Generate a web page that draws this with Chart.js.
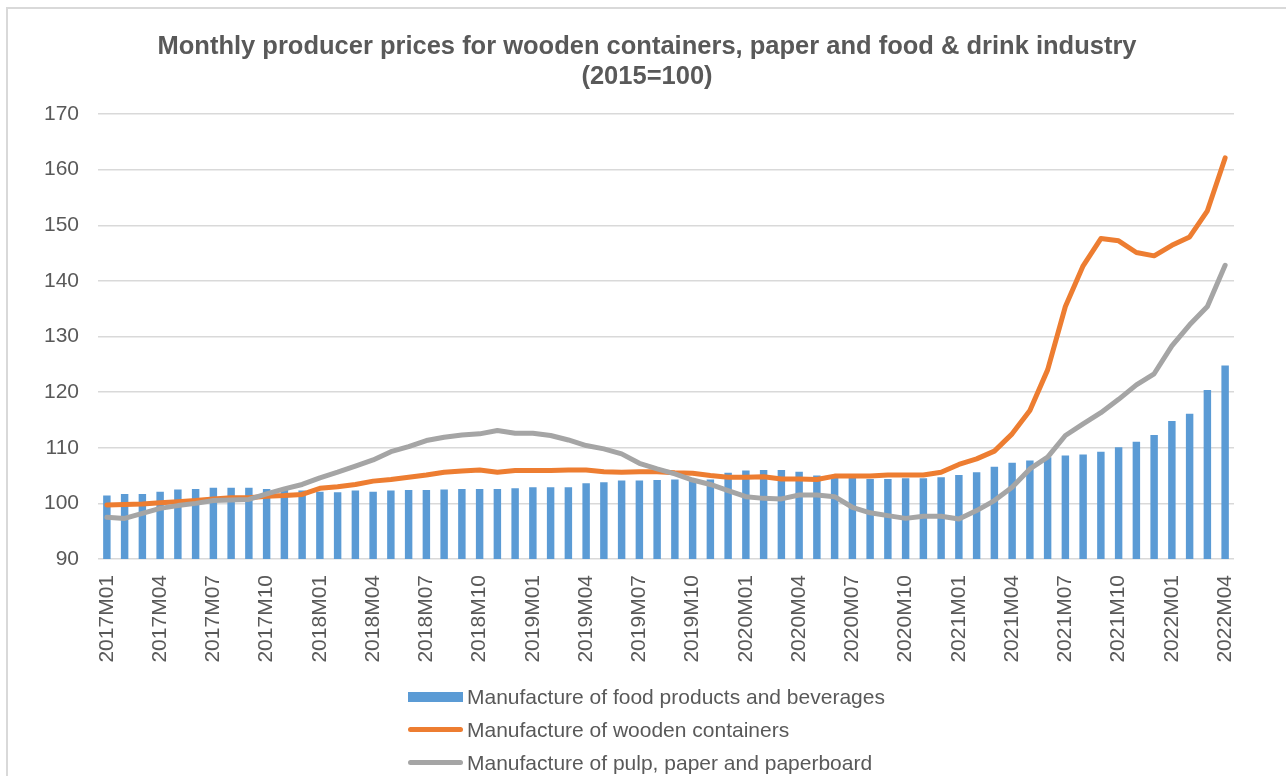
<!DOCTYPE html>
<html>
<head>
<meta charset="utf-8">
<script src="https://cdn.jsdelivr.net/npm/chart.js@4"></script>
<style>
  body { margin: 0; background: #fff; font-family: "Liberation Sans", Arial, sans-serif; overflow: hidden; }
  #frame { position: absolute; left: 6px; top: 7px; width: 1300px; height: 800px; border: 2px solid #d9d9d9; box-sizing: border-box; }
  #wrap { position: absolute; left: 0; top: 0; width: 1286px; height: 776px; }
  #legend { position: absolute; left: 408px; top: 680px; color: #595959; font-size: 21px; }
  .item { height: 33px; display: flex; align-items: center; }
  .mark { width: 55px; margin-right: 4px; }
</style>
</head>
<body>
<div id="frame"></div>
<div id="wrap"><canvas id="chart" width="1286" height="776"></canvas></div>
<div id="legend"></div>
<script>
// months shown on the axis
const months = [
  '2017M01','2017M02','2017M03','2017M04','2017M05','2017M06','2017M07','2017M08','2017M09','2017M10','2017M11','2017M12',
  '2018M01','2018M02','2018M03','2018M04','2018M05','2018M06','2018M07','2018M08','2018M09','2018M10','2018M11','2018M12',
  '2019M01','2019M02','2019M03','2019M04','2019M05','2019M06','2019M07','2019M08','2019M09','2019M10','2019M11','2019M12',
  '2020M01','2020M02','2020M03','2020M04','2020M05','2020M06','2020M07','2020M08','2020M09','2020M10','2020M11','2020M12',
  '2021M01','2021M02','2021M03','2021M04','2021M05','2021M06','2021M07','2021M08','2021M09','2021M10','2021M11','2021M12',
  '2022M01','2022M02','2022M03','2022M04'
];

const foodDrink = [
  101.4,101.7,101.7,102.1,102.5,102.6,102.8,102.8,102.8,102.6,102.4,102.3,
  102.1,102.0,102.3,102.1,102.3,102.4,102.4,102.5,102.6,102.6,102.6,102.7,
  102.9,102.9,102.9,103.6,103.8,104.1,104.1,104.2,104.3,104.3,104.3,105.5,
  105.9,106.0,106.0,105.7,105.0,104.8,104.6,104.4,104.4,104.5,104.5,104.7,
  105.1,105.6,106.6,107.3,107.7,108.3,108.6,108.8,109.3,110.1,111.1,112.3,
  114.8,116.1,120.4,124.8
];

const woodenContainers = [
  99.7,99.8,99.9,100.1,100.3,100.5,100.8,101.0,101.0,101.3,101.4,101.6,
  102.7,103.0,103.4,104.0,104.3,104.7,105.1,105.6,105.8,106.0,105.6,105.9,
  105.9,105.9,106.0,106.0,105.7,105.6,105.7,105.7,105.5,105.4,105.0,104.7,
  104.7,104.8,104.4,104.4,104.3,104.9,104.9,104.9,105.1,105.1,105.1,105.6,
  107.0,108.0,109.4,112.5,116.7,124.0,135.4,142.7,147.6,147.2,145.1,144.5,
  146.4,147.9,152.6,162.1
];

const pulpPaper = [
  97.5,97.3,98.2,99.1,99.6,100.0,100.5,100.6,100.7,101.7,102.6,103.4,
  104.6,105.6,106.7,107.8,109.3,110.2,111.3,111.9,112.3,112.5,113.1,112.6,
  112.6,112.2,111.4,110.4,109.8,108.9,107.2,106.2,105.3,104.2,103.4,102.3,
  101.2,100.9,100.8,101.5,101.5,101.2,99.3,98.3,97.8,97.3,97.7,97.7,
  97.2,98.7,100.5,102.9,106.2,108.3,112.2,114.3,116.3,118.7,121.3,123.3,
  128.3,132.1,135.4,142.8
];

const yMin = 90, yMax = 170, yStep = 10;
const txt = '#595959';
const font = '"Liberation Sans", Arial, sans-serif';

const series = [
  { label: 'Manufacture of food products and beverages', type: 'bar', data: foodDrink, color: '#5B9BD5', order: 3 },
  { label: 'Manufacture of wooden containers', type: 'line', data: woodenContainers, color: '#ED7D31', order: 2 },
  { label: 'Manufacture of pulp, paper and paperboard', type: 'line', data: pulpPaper, color: '#A5A5A5', order: 1 }
];

const datasets = series.map(s => s.type === 'bar' ? {
  type: 'bar', label: s.label, data: s.data, order: s.order, yAxisID: 'y',
  backgroundColor: s.color, barPercentage: 0.42, categoryPercentage: 1
} : {
  type: 'line', label: s.label, data: s.data, order: s.order, yAxisID: 'y',
  borderColor: s.color, backgroundColor: s.color, borderWidth: 5,
  pointRadius: 0, tension: 0, borderJoinStyle: 'round', borderCapStyle: 'round'
});

new Chart(document.getElementById('chart'), {
  data: { labels: months, datasets },
  options: {
    responsive: false,
    animation: false,
    // left/right padding keeps the title centred on the frame
    layout: { padding: { left: 30, right: 22, top: 0, bottom: 107 } },
    plugins: {
      legend: { display: false },
      tooltip: { enabled: false },
      title: {
        display: true,
        text: ['Monthly producer prices for wooden containers, paper and food & drink industry', '(2015=100)'],
        color: txt,
        font: { family: font, size: 25.5, weight: 'bold', lineHeight: '30px' },
        padding: { top: 32, bottom: 22 }
      }
    },
    scales: {
      x: {
        grid: { display: false },
        border: { display: false },
        ticks: {
          autoSkip: false, maxRotation: 90, minRotation: 90, padding: 8,
          color: txt, font: { family: font, size: 21 },
          callback: (v, i) => i % 3 === 0 ? months[i] : ''
        },
        afterFit: s => { s.height = 110; }
      },
      y: {
        min: yMin, max: yMax,
        grid: { color: '#d9d9d9', lineWidth: 1.5, drawTicks: false },
        border: { display: false },
        ticks: { stepSize: yStep, padding: 19, color: txt, font: { family: font, size: 21 } },
        afterFit: s => { s.width = 68; }
      },
      // empty spacer on the right
      yRight: {
        position: 'right',
        grid: { display: false },
        border: { display: false },
        ticks: { display: false },
        afterFit: s => { s.width = 30; }
      }
    }
  }
});

// legend, one entry per row as in the original
const legend = document.getElementById('legend');
series.forEach(s => {
  const row = document.createElement('div');
  row.className = 'item';
  const mark = s.type === 'bar'
    ? `<span class="mark" style="height:10px;background:${s.color}"></span>`
    : `<span class="mark" style="height:5px;border-radius:3px;background:${s.color}"></span>`;
  row.innerHTML = mark + `<span>${s.label}</span>`;
  legend.appendChild(row);
});
</script>
</body>
</html>
